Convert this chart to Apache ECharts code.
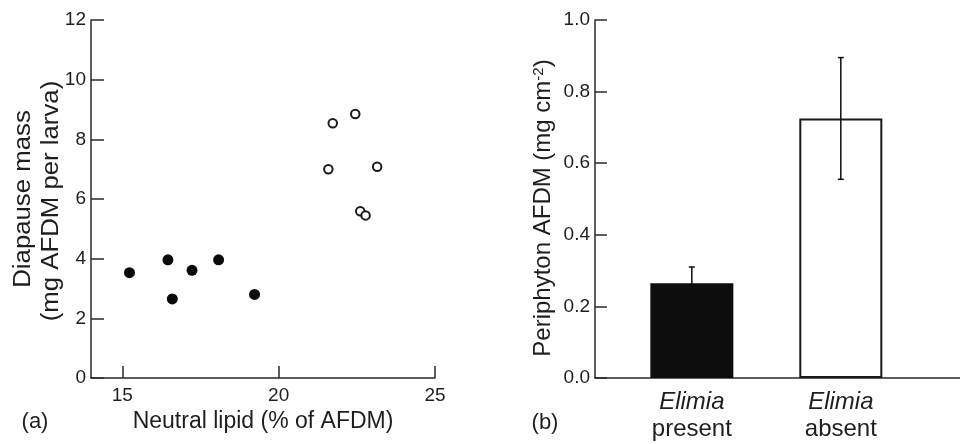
<!DOCTYPE html>
<html>
<head>
<meta charset="utf-8">
<script src="https://cdn.jsdelivr.net/npm/echarts@6/dist/echarts.min.js"></script>
<style>
  html, body { margin: 0; padding: 0; background: #fff; }
  #chart { width: 960px; height: 444px; }
</style>
</head>
<body>
<div id="chart"></div>
<script>
// Panel (a): larval diapause mass vs neutral lipid content
const lipidFilled = [15.23, 16.46, 16.60, 17.23, 18.08, 19.23];
const massFilled  = [3.53, 3.96, 2.65, 3.61, 3.96, 2.80];
const lipidOpen   = [21.59, 21.73, 22.45, 23.15, 22.61, 22.78];
const massOpen    = [7.00, 8.54, 8.85, 7.08, 5.59, 5.45];
const lipidTicks  = [15, 20, 25];

// Panel (b): periphyton biomass with and without Elimia
const groups      = ['present', 'absent'];
const groupPos    = [1, 2];
const periphyton  = [0.265, 0.725];
const periphytonSE = [0.045, 0.17];

const FONT = 'Liberation Sans, Arial, Helvetica, sans-serif';
const INK = '#1e1e1e';
const AXIS = '#2a2a2a';

const chart = echarts.init(document.getElementById('chart'), null, { renderer: 'canvas' });

const axisLine = { lineStyle: { color: AXIS, width: 1.5 } };
const tickLabel = { color: INK, fontSize: 19, fontFamily: FONT };

chart.setOption({
  animation: false,
  backgroundColor: '#fff',
  grid: [
    { left: 91, right: 525, top: 20, bottom: 66 },
    { left: 595, right: -2.5, top: 20, bottom: 66 }
  ],
  xAxis: [
    {
      gridIndex: 0, type: 'value', min: 14, max: 25,
      axisLine: axisLine,
      axisTick: { show: true, inside: true, length: 12, customValues: lipidTicks, lineStyle: { color: AXIS, width: 1.5 } },
      axisLabel: Object.assign({ margin: 8, customValues: lipidTicks }, tickLabel),
      splitLine: { show: false },
      name: 'Neutral lipid (% of AFDM)', nameLocation: 'middle', nameGap: 31,
      nameTextStyle: { color: INK, fontSize: 23, fontFamily: FONT }
    },
    {
      gridIndex: 1, type: 'value', min: 0.35, max: 2.8,
      axisLine: axisLine,
      axisTick: { show: false },
      axisLabel: {
        customValues: groupPos, margin: 11,
        formatter: v => '{i|Elimia}\n{n|' + groups[Math.round(v) - 1] + '}',
        rich: {
          i: { fontStyle: 'italic', fontSize: 24, lineHeight: 27, color: INK, fontFamily: FONT },
          n: { fontSize: 24, lineHeight: 27, color: INK, fontFamily: FONT }
        }
      },
      splitLine: { show: false }
    }
  ],
  yAxis: [
    {
      gridIndex: 0, type: 'value', min: 0, max: 12, interval: 2,
      axisLine: Object.assign({ show: true }, axisLine),
      axisTick: { show: true, inside: true, length: 13, lineStyle: { color: AXIS, width: 1.5 } },
      axisLabel: Object.assign({ margin: 5 }, tickLabel),
      splitLine: { show: false }
    },
    {
      gridIndex: 1, type: 'value', min: 0, max: 1, interval: 0.2,
      axisLine: Object.assign({ show: true }, axisLine),
      axisTick: { show: true, inside: true, length: 12, lineStyle: { color: AXIS, width: 1.5 } },
      axisLabel: Object.assign({ margin: 5, formatter: v => v.toFixed(1) }, tickLabel),
      splitLine: { show: false }
    }
  ],
  graphic: [
    { type: 'text', x: 24, y: 199, rotation: Math.PI / 2, scaleX: 1.12,
      style: { text: 'Diapause mass', fill: INK, fontSize: 23, fontFamily: FONT, align: 'center', verticalAlign: 'middle' } },
    { type: 'text', x: 52, y: 201, rotation: Math.PI / 2, scaleX: 1.12,
      style: { text: '(mg AFDM per larva)', fill: INK, fontSize: 23, fontFamily: FONT, align: 'center', verticalAlign: 'middle' } },
    { type: 'text', x: 543, y: 208, rotation: Math.PI / 2,
      style: {
        text: 'Periphyton AFDM (mg cm{sup|-2})', fill: INK, fontSize: 24, fontFamily: FONT,
        align: 'center', verticalAlign: 'middle',
        rich: { sup: { fontSize: 15, fill: INK, fontFamily: FONT, verticalAlign: 'top', lineHeight: 14 } }
      } },
    { type: 'text', x: 35, y: 422,
      style: { text: '(a)', fill: INK, fontSize: 22, fontFamily: FONT, align: 'center', verticalAlign: 'middle' } },
    { type: 'text', x: 545, y: 423,
      style: { text: '(b)', fill: INK, fontSize: 22, fontFamily: FONT, align: 'center', verticalAlign: 'middle' } }
  ],
  series: [
    {
      type: 'scatter', xAxisIndex: 0, yAxisIndex: 0,
      symbol: 'circle', symbolSize: 11,
      itemStyle: { color: '#0a0a0a', opacity: 1 },
      data: lipidFilled.map((x, i) => [x, massFilled[i]])
    },
    {
      type: 'scatter', xAxisIndex: 0, yAxisIndex: 0,
      symbol: 'circle', symbolSize: 8.5,
      itemStyle: { color: '#fff', borderColor: '#1a1a1a', borderWidth: 2, opacity: 1 },
      data: lipidOpen.map((x, i) => [x, massOpen[i]])
    },
    {
      type: 'bar', xAxisIndex: 1, yAxisIndex: 1,
      barWidth: 83,
      data: groupPos.map((x, i) => ({
        value: [x, periphyton[i]],
        itemStyle: i === 0
          ? { color: '#0d0d0d', borderColor: '#0d0d0d', borderWidth: 1.5 }
          : { color: '#fff', borderColor: '#1a1a1a', borderWidth: 2 }
      }))
    },
    {
      type: 'custom', xAxisIndex: 1, yAxisIndex: 1,
      z: 5,
      data: groupPos.map((x, i) => [x, periphyton[i] - periphytonSE[i], periphyton[i] + periphytonSE[i]]),
      renderItem: (params, api) => {
        const lo = api.coord([api.value(0), api.value(1)]);
        const hi = api.coord([api.value(0), api.value(2)]);
        const cap = 3;
        const style = { stroke: '#0d0d0d', lineWidth: 1.5 };
        return {
          type: 'group',
          children: [
            { type: 'line', shape: { x1: lo[0], y1: lo[1], x2: hi[0], y2: hi[1] }, style },
            { type: 'line', shape: { x1: hi[0] - cap, y1: hi[1], x2: hi[0] + cap, y2: hi[1] }, style },
            { type: 'line', shape: { x1: lo[0] - cap, y1: lo[1], x2: lo[0] + cap, y2: lo[1] }, style }
          ]
        };
      }
    }
  ]
});
</script>
</body>
</html>
